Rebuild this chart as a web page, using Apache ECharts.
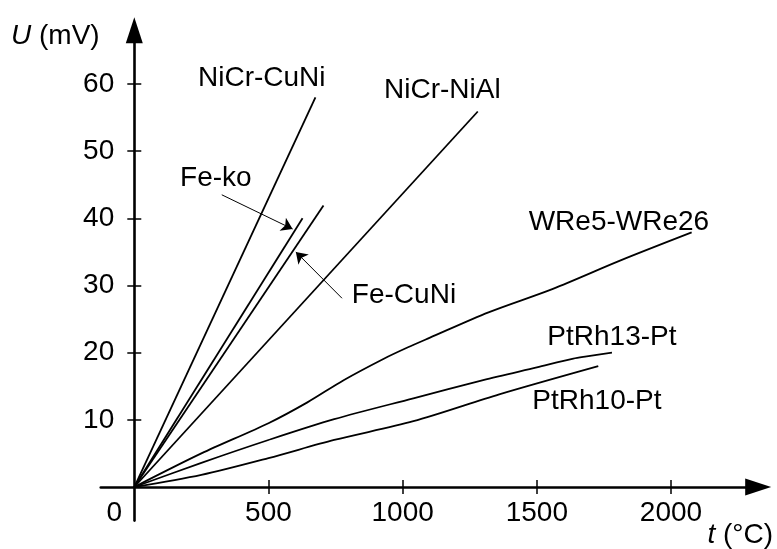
<!DOCTYPE html>
<html>
<head>
<meta charset="utf-8">
<style>
  html, body { margin: 0; padding: 0; background: #fff; }
  #chart { width: 777px; height: 549px; }
</style>
<script src="https://cdn.jsdelivr.net/npm/echarts@6/dist/echarts.min.js"></script>
</head>
<body>
<div id="chart"></div>
<script>
// thermocouple curves, t in °C, U in mV
const nicrCuniT = [0, 675];
const nicrCuniU = [0, 58];
const nicrNialT = [0, 1280];
const nicrNialU = [0, 55.9];
const fekoT = [0, 627];
const fekoU = [0, 40];
const feCuniT = [0, 705];
const feCuniU = [0, 41.9];
const wreT = [0, 250, 500, 645, 780, 930, 1020, 1100, 1320, 1560, 1810, 2077];
const wreU = [0, 5.0, 9.5, 12.6, 15.9, 19.1, 20.8, 22.2, 26.0, 29.5, 33.7, 37.9];
const ptrh13T = [0, 250, 500, 745, 1040, 1300, 1500, 1636, 1680, 1780];
const ptrh13U = [0, 3.6, 7.0, 10.1, 13.2, 15.9, 17.8, 19.1, 19.4, 20.0];
const ptrh10T = [0, 250, 500, 745, 1040, 1360, 1729];
const ptrh10U = [0, 1.8, 4.3, 7.0, 9.8, 13.8, 18.0];

const xTicks = [500, 1000, 1500, 2000];
const xLabels = [0, 500, 1000, 1500, 2000];
const yTicks = [10, 20, 30, 40, 50, 60];

// curve names and where their labels sit
const labelNames = ["NiCr-CuNi", "NiCr-NiAl", "Fe-ko", "Fe-CuNi", "WRe5-WRe26", "PtRh13-Pt", "PtRh10-Pt"];
const labelT = [475, 1148, 304, 1005, 1806, 1780, 1724];
const labelU = [60.8, 59.1, 45.9, 28.6, 39.4, 22.3, 12.7];

// pointer arrows for Fe-ko and Fe-CuNi
const arrowFrom = [[326, 43.5], [774, 28.1]];
const arrowTo = [[590, 38.4], [602, 35.0]];

const FONT = '"Liberation Sans", Arial, Helvetica, sans-serif';

const zip = (xs, ys) => xs.map((x, i) => [x, ys[i]]);

const chart = echarts.init(document.getElementById("chart"));

const curve = (name, xs, ys, smooth) => ({
  name,
  type: "line",
  data: zip(xs, ys),
  showSymbol: false,
  smooth: smooth ? 0.3 : false,
  lineStyle: { color: "#000", width: 1.8 },
  silent: true,
});

const txt = { fontSize: 28, fontFamily: FONT, fontWeight: "normal", color: "#000" };

const xBase = {
  type: "value",
  min: -125,
  max: 2325,
  splitLine: { show: false },
};
const yBase = {
  type: "value",
  min: -5,
  max: 68,
  splitLine: { show: false },
};

chart.setOption({
  animation: false,
  backgroundColor: "#fff",
  textStyle: { fontFamily: FONT },
  title: [
    {
      text: "{i|U}{n| (mV)}",
      left: 11,
      top: 22,
      padding: 0,
      textStyle: {
        fontWeight: "normal",
        rich: { i: { ...txt, fontStyle: "italic" }, n: txt },
      },
    },
    {
      text: "{i|t}{n| (°C)}",
      right: 4,
      top: 521,
      padding: 0,
      textStyle: {
        fontWeight: "normal",
        rich: { i: { ...txt, fontStyle: "italic" }, n: txt },
      },
    },
  ],
  grid: {
    left: 100.75,
    right: 18.8,
    top: 30.2,
    bottom: 28.4,
    containLabel: false,
    outerBoundsMode: "none",
  },
  xAxis: [
    {
      ...xBase,
      axisLine: {
        onZero: true,
        symbol: ["none", "triangle"],
        symbolSize: [17, 26],
        lineStyle: { color: "#000", width: 2.6 },
      },
      axisTick: {
        customValues: xTicks,
        length: 7,
        lineStyle: { color: "#000", width: 1.5 },
      },
      axisLabel: {
        customValues: xLabels,
        // labels are laid out from the grid edge, not from the zero line
        margin: -21.5,
        hideOverlap: false,
        ...txt,
        formatter: (v) => (v === 0 ? "{z|0}" : String(v)),
        rich: { z: { ...txt, padding: [0, 40, 0, 0] } },
      },
    },
    {
      ...xBase,
      position: "bottom",
      axisLine: { show: false, onZero: true },
      axisTick: {
        customValues: xTicks,
        inside: true,
        length: 7,
        lineStyle: { color: "#000", width: 1.5 },
      },
      axisLabel: { show: false },
    },
  ],
  yAxis: [
    {
      ...yBase,
      axisLine: {
        onZero: true,
        symbol: ["none", "triangle"],
        symbolSize: [17, 26],
        lineStyle: { color: "#000", width: 2.6 },
      },
      axisTick: {
        customValues: yTicks,
        length: 7,
        lineStyle: { color: "#000", width: 1.5 },
      },
      axisLabel: {
        customValues: yTicks,
        margin: -13.5,
        hideOverlap: false,
        ...txt,
      },
    },
    {
      ...yBase,
      position: "left",
      axisLine: { show: false, onZero: true },
      axisTick: {
        customValues: yTicks,
        inside: true,
        length: 7,
        lineStyle: { color: "#000", width: 1.5 },
      },
      axisLabel: { show: false },
    },
  ],
  series: [
    curve("NiCr-CuNi", nicrCuniT, nicrCuniU, false),
    curve("NiCr-NiAl", nicrNialT, nicrNialU, false),
    curve("Fe-ko", fekoT, fekoU, false),
    curve("Fe-CuNi", feCuniT, feCuniU, false),
    curve("WRe5-WRe26", wreT, wreU, true),
    curve("PtRh13-Pt", ptrh13T, ptrh13U, true),
    curve("PtRh10-Pt", ptrh10T, ptrh10U, true),
    {
      name: "labels",
      type: "scatter",
      symbolSize: 0,
      silent: true,
      itemStyle: { opacity: 1 },
      data: labelNames.map((n, i) => ({ value: [labelT[i], labelU[i]], name: n })),
      label: {
        show: true,
        position: "inside",
        formatter: (p) => p.name,
        ...txt,
        textBorderWidth: 0,
      },
    },
    {
      name: "arrows",
      type: "lines",
      coordinateSystem: "cartesian2d",
      silent: true,
      symbol: ["none", "arrow"],
      symbolSize: [7, 11],
      lineStyle: { color: "#000", width: 1, opacity: 1 },
      data: arrowFrom.map((f, i) => ({ coords: [f, arrowTo[i]] })),
    },
  ],
});
</script>
</body>
</html>
